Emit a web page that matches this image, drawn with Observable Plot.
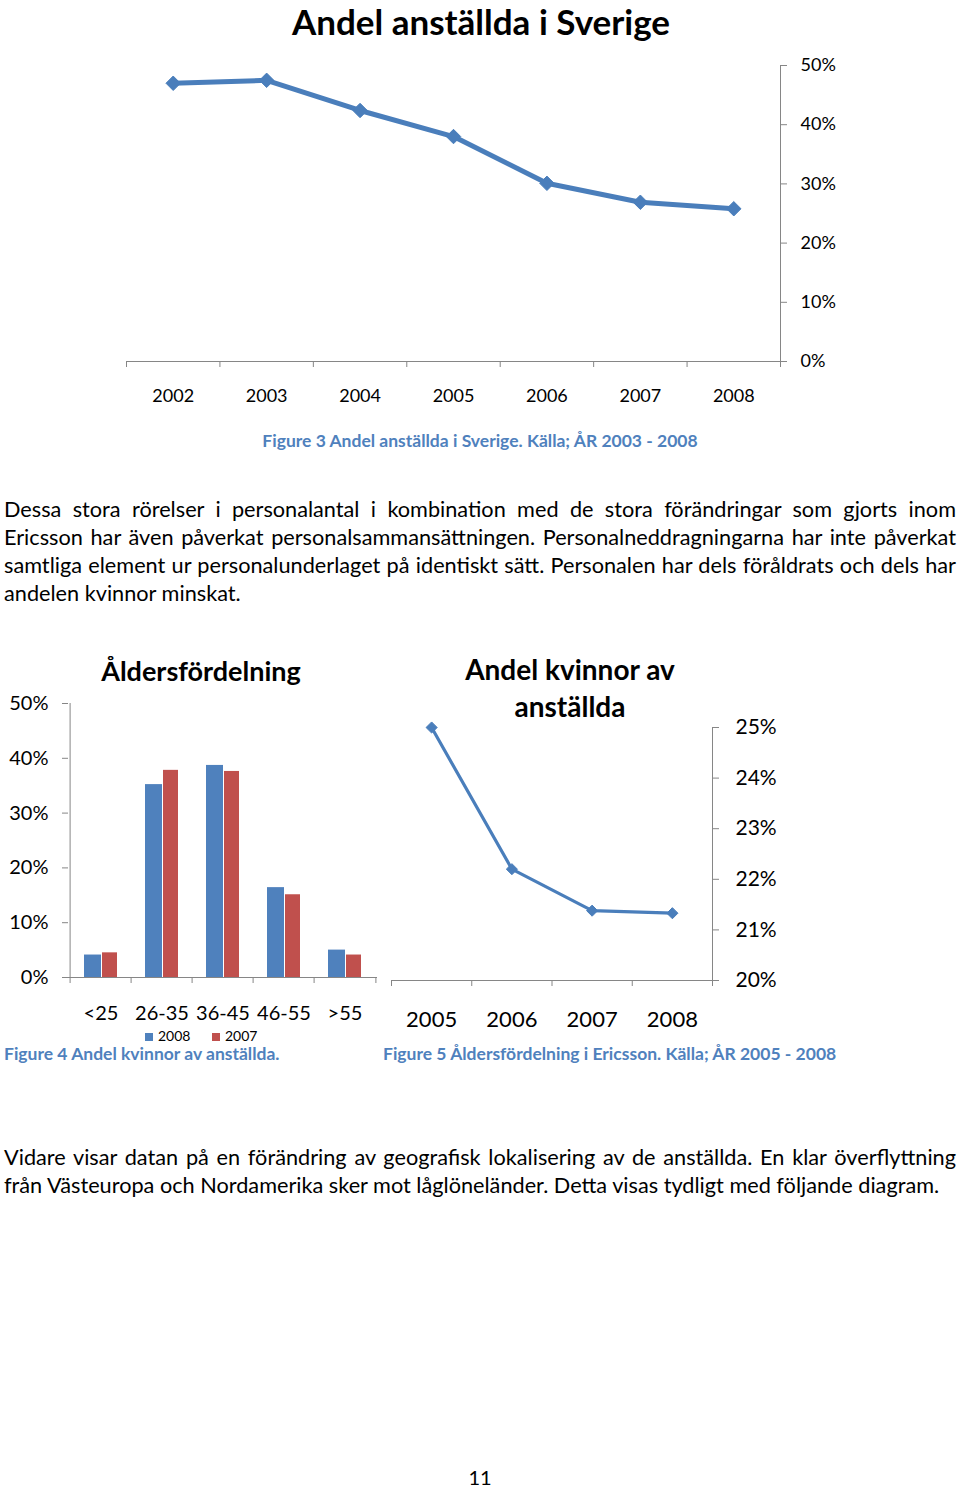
<!DOCTYPE html>
<html>
<head>
<meta charset="utf-8">
<script src="https://cdn.jsdelivr.net/npm/d3@7"></script>
<script src="https://cdn.jsdelivr.net/npm/@observablehq/plot@0.6"></script>
<style>
  html, body { margin: 0; padding: 0; background: #fff; }
  body { width: 960px; height: 1488px; position: relative; overflow: hidden; font-family: Lato, "Open Sans", sans-serif; color: #000; }
  .abs { position: absolute; white-space: nowrap; }
  .title { font-weight: bold; text-align: center; }
  .cap { font-weight: bold; color: #4f81bd; font-size: 17.5px; }
  .line { position: absolute; left: 4px; width: 952px; font-size: 21.7px; line-height: 28px; white-space: nowrap; text-align: justify; text-align-last: justify; }
  .line.last { text-align-last: left; }
  .chart { position: absolute; }
  .chart svg { overflow: visible; }
  .sw { display: inline-block; width: 8px; height: 8px; margin-right: 5px; vertical-align: 0px; }
</style>
</head>
<body>
<div class="abs title" style="left:0;width:962px;top:3px;font-size:35px;line-height:36px;">Andel anställda i Sverige</div>
<div id="c1" class="chart" style="left:0;top:50px;"></div>
<div class="abs cap" style="left:0;width:960px;text-align:center;top:430px;">Figure 3 Andel anställda i Sverige. Källa; ÅR 2003 - 2008</div>

<div class="line" style="top:495px;">Dessa stora rörelser i personalantal i kombination med de stora förändringar som gjorts inom</div>
<div class="line" style="top:523px;">Ericsson har även påverkat personalsammansättningen. Personalneddragningarna har inte påverkat</div>
<div class="line" style="top:551px;">samtliga element ur personalunderlaget på identiskt sätt. Personalen har dels föråldrats och dels har</div>
<div class="line last" style="top:579px;">andelen kvinnor minskat.</div>

<div class="abs title" style="left:101px;width:200px;top:654px;font-size:27px;">Åldersfördelning</div>
<div id="c2" class="chart" style="left:0;top:690px;"></div>
<div class="abs" style="left:145px;top:1027px;font-size:14px;"><span class="sw" style="background:#4f81bd"></span>2008</div>
<div class="abs" style="left:212px;top:1027px;font-size:14px;"><span class="sw" style="background:#c0504d"></span>2007</div>
<div class="abs cap" style="left:4px;top:1043px;">Figure 4 Andel kvinnor av anställda.</div>

<div class="abs title" style="left:420px;width:300px;top:651px;font-size:28px;line-height:37px;">Andel kvinnor av<br>anställda</div>
<div id="c3" class="chart" style="left:380px;top:715px;"></div>
<div class="abs cap" style="left:383px;top:1043px;">Figure 5 Åldersfördelning i Ericsson. Källa; ÅR 2005 - 2008</div>

<div class="line" style="top:1143px;">Vidare visar datan på en förändring av geografisk lokalisering av de anställda. En klar överflyttning</div>
<div class="line last" style="top:1171px;">från Västeuropa och Nordamerika sker mot låglöneländer. Detta visas tydligt med följande diagram.</div>

<div class="abs" style="left:0;width:960px;text-align:center;top:1465px;font-size:20px;">11</div>

<script>
// ---------- Data ----------
const years1 = [2002, 2003, 2004, 2005, 2006, 2007, 2008];
const shareSweden = [47.0, 47.5, 42.4, 38.0, 30.1, 26.9, 25.8];
const ticks1 = [0, 10, 20, 30, 40, 50];

const ageGroups = ["<25", "26-35", "36-45", "46-55", ">55"];
const age2008 = [4.1, 35.2, 38.7, 16.4, 5.0];
const age2007 = [4.5, 37.8, 37.6, 15.1, 4.1];
const ticks2 = [0, 10, 20, 30, 40, 50];

const years3 = [2005, 2006, 2007, 2008];
const shareWomen = [25.0, 22.2, 21.38, 21.33];
const ticks3 = [20, 21, 22, 23, 24, 25];

// ---------- Styles ----------
const BLUE = "#4a7ebb";
const BAR_BLUE = "#4f81bd";
const BAR_RED = "#c0504d";
const AXIS = "#868686";
const FONT = "Lato, 'Open Sans', sans-serif";
const pct = d => d + "%";

// fit justified lines that would overflow
function fitLines() {
  document.querySelectorAll(".line").forEach(el => {
    el.style.letterSpacing = "";
    const probe = document.createElement("span");
    probe.textContent = el.textContent;
    probe.style.cssText = "position:absolute;visibility:hidden;white-space:nowrap;font-family:inherit;font-size:" + getComputedStyle(el).fontSize;
    el.parentNode.appendChild(probe);
    const w = probe.getBoundingClientRect().width;
    probe.remove();
    const avail = 950;
    if (w > avail) {
      el.style.letterSpacing = ((avail - w) / el.textContent.length).toFixed(3) + "px";
    }
  });
}
if (document.fonts && document.fonts.ready) document.fonts.ready.then(fitLines);
fitLines();

// ---------- Chart 1 ----------
{
  const data = years1.map((year, i) => ({year, v: shareSweden[i]}));
  const lo = years1[0] - 0.5, hi = years1[years1.length - 1] + 0.5;
  const bounds = d3.range(lo, hi + 0.01, 1);
  const chart = Plot.plot({
    width: 960, height: 361,
    marginLeft: 126, marginRight: 180, marginTop: 15, marginBottom: 50,
    style: {fontFamily: FONT, fontSize: "18px", color: "#000", background: "transparent", overflow: "visible"},
    x: {domain: [lo, hi], label: null},
    y: {domain: [0, 50], label: null},
    marks: [
      Plot.ruleY([0], {stroke: AXIS}),
      Plot.ruleX([hi], {y1: 0, y2: 50, stroke: AXIS}),
      Plot.axisX({ticks: bounds, tickSize: 6, tickFormat: () => "", stroke: AXIS, label: null}),
      Plot.axisX({ticks: years1, tickSize: 0, tickPadding: 28, tickFormat: d => String(d), fontSize: 18, label: null}),
      Plot.axisY({anchor: "right", ticks: ticks1, tickSize: 6, tickPadding: 14, tickFormat: pct, stroke: AXIS, fontSize: 18, label: null}),
      Plot.line(data, {x: "year", y: "v", stroke: BLUE, strokeWidth: 5}),
      Plot.dot(data, {x: "year", y: "v", symbol: "diamond2", r: 6.5, fill: BLUE, stroke: BLUE, strokeWidth: 1})
    ]
  });
  document.getElementById("c1").append(chart);
}

// ---------- Chart 2 ----------
{
  const d08 = ageGroups.map((g, i) => ({group: g, v: age2008[i]}));
  const d07 = ageGroups.map((g, i) => ({group: g, v: age2007[i]}));
  const W = 390, ml = 68, mr = 13;
  const bw = (W - ml - mr) / ageGroups.length;
  const chart = Plot.plot({
    width: W, height: 337,
    marginLeft: ml, marginRight: mr, marginTop: 13, marginBottom: 50,
    style: {fontFamily: FONT, fontSize: "20px", color: "#000", background: "transparent", overflow: "visible"},
    x: {type: "band", domain: ageGroups, padding: 0, label: null},
    y: {domain: [0, 50], label: null},
    marks: [
      Plot.barY(d08, {x: "group", y: "v", fill: BAR_BLUE, insetLeft: 14, insetRight: 30}),
      Plot.barY(d07, {x: "group", y: "v", fill: BAR_RED, insetLeft: 32, insetRight: 14}),
      Plot.ruleY([0], {stroke: AXIS}),
      Plot.ruleX([ageGroups[0]], {y1: 0, y2: 50, dx: -bw / 2, stroke: AXIS}),
      Plot.axisX({tickSize: 6, tickFormat: () => "", dx: -bw / 2, stroke: AXIS, label: null}),
      Plot.axisX({ticks: [ageGroups[ageGroups.length - 1]], tickSize: 6, tickFormat: () => "", dx: bw / 2, stroke: AXIS, label: null}),
      Plot.axisX({tickSize: 0, tickPadding: 28, fontSize: 20, label: null}),
      Plot.axisY({anchor: "left", ticks: ticks2, tickSize: 6, tickPadding: 14, tickFormat: pct, stroke: AXIS, fontSize: 20, label: null})
    ]
  });
  document.getElementById("c2").append(chart);
}

// ---------- Chart 3 ----------
{
  const data = years3.map((year, i) => ({year, v: shareWomen[i]}));
  const lo = years3[0] - 0.5, hi = years3[years3.length - 1] + 0.5;
  const bounds = d3.range(lo, hi + 0.01, 1);
  const chart = Plot.plot({
    width: 420, height: 320,
    marginLeft: 11, marginRight: 88, marginTop: 12, marginBottom: 55,
    style: {fontFamily: FONT, fontSize: "21px", color: "#000", background: "transparent", overflow: "visible"},
    x: {domain: [lo, hi], label: null},
    y: {domain: [20, 25], label: null},
    marks: [
      Plot.ruleY([20], {stroke: AXIS}),
      Plot.ruleX([hi], {y1: 20, y2: 25, stroke: AXIS}),
      Plot.axisX({ticks: bounds, tickSize: 6, tickFormat: () => "", stroke: AXIS, label: null}),
      Plot.axisX({ticks: years3, tickSize: 0, tickPadding: 31, tickFormat: d => String(d), fontSize: 22, label: null}),
      Plot.axisY({anchor: "right", ticks: ticks3, tickSize: 6, tickPadding: 17, tickFormat: pct, stroke: AXIS, fontSize: 21, label: null}),
      Plot.line(data, {x: "year", y: "v", stroke: BLUE, strokeWidth: 3.2}),
      Plot.dot(data, {x: "year", y: "v", symbol: "diamond2", r: 5, fill: BLUE, stroke: BLUE, strokeWidth: 1})
    ]
  });
  document.getElementById("c3").append(chart);
}
</script>
</body>
</html>
